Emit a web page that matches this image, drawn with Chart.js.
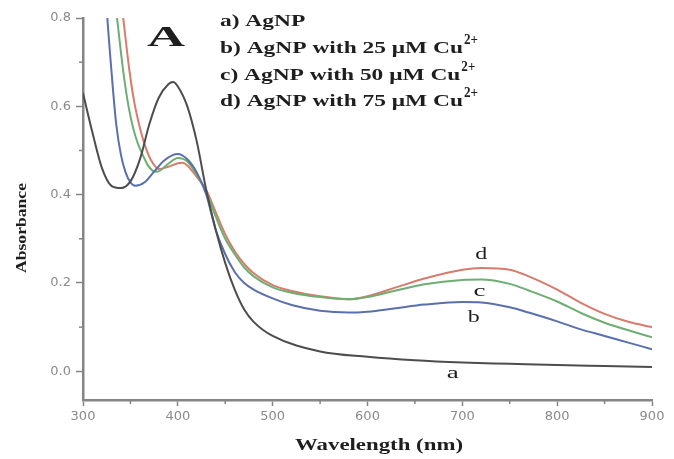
<!DOCTYPE html>
<html>
<head>
<meta charset="utf-8">
<script src="https://cdn.jsdelivr.net/npm/chart.js@4.4.1/dist/chart.umd.min.js"></script>
<style>
  html, body { margin: 0; padding: 0; background: #fff; }
  #wrap { width: 674px; height: 459px; }
</style>
</head>
<body>
<div id="wrap"><canvas id="spectra"></canvas></div>
<script>
// wavelengths (nm) and absorbance
var aWave = [300, 310, 320, 330, 340, 350, 360, 370, 380, 390, 395, 400, 410, 420, 430, 440, 450, 460, 470, 480, 500, 550, 600, 650, 700, 750, 800, 850, 900];
var aAbs  = [0.63, 0.54, 0.46, 0.42, 0.415, 0.43, 0.48, 0.56, 0.62, 0.65, 0.655, 0.645, 0.6, 0.52, 0.41, 0.32, 0.245, 0.185, 0.14, 0.112, 0.08, 0.045, 0.033, 0.025, 0.02, 0.017, 0.014, 0.012, 0.01];

var bWave = [320, 325, 330, 335, 340, 345, 350, 355, 365, 375, 385, 395, 400, 410, 420, 430, 440, 450, 460, 470, 480, 500, 520, 550, 580, 600, 630, 660, 700, 720, 750, 770, 800, 825, 850, 875, 900];
var bAbs  = [1.0, 0.82, 0.68, 0.56, 0.49, 0.45, 0.428, 0.42, 0.428, 0.452, 0.476, 0.49, 0.492, 0.48, 0.45, 0.4, 0.32, 0.265, 0.225, 0.2, 0.185, 0.165, 0.15, 0.137, 0.133, 0.135, 0.143, 0.151, 0.157, 0.156, 0.145, 0.133, 0.113, 0.095, 0.08, 0.065, 0.05];

var cWave = [328, 333, 338, 343, 348, 353, 358, 363, 368, 373, 378, 390, 400, 410, 420, 430, 440, 450, 460, 470, 480, 500, 520, 550, 580, 600, 630, 660, 700, 720, 750, 770, 800, 825, 850, 875, 900];
var cAbs  = [1.0, 0.86, 0.76, 0.67, 0.6, 0.55, 0.515, 0.49, 0.468, 0.455, 0.452, 0.47, 0.483, 0.475, 0.445, 0.405, 0.35, 0.3, 0.265, 0.235, 0.215, 0.19, 0.178, 0.168, 0.163, 0.168, 0.183, 0.197, 0.207, 0.208, 0.198, 0.183, 0.158, 0.132, 0.11, 0.093, 0.077];

var dWave = [334, 339, 344, 349, 354, 359, 364, 369, 374, 380, 390, 400, 405, 410, 420, 430, 440, 450, 460, 470, 480, 500, 520, 550, 580, 600, 630, 660, 700, 720, 750, 770, 800, 825, 850, 875, 900];
var dAbs  = [1.0, 0.87, 0.77, 0.68, 0.61, 0.56, 0.52, 0.49, 0.47, 0.458, 0.463, 0.471, 0.472, 0.466, 0.44, 0.41, 0.36, 0.31, 0.272, 0.243, 0.222, 0.195, 0.182, 0.17, 0.163, 0.17, 0.19, 0.21, 0.23, 0.234, 0.23, 0.215, 0.185, 0.155, 0.13, 0.112, 0.1];

var seriesNames = ['a', 'b', 'c', 'd'];
var legendLines = ['a) AgNP', 'b) AgNP with 25 \u03bcM Cu', 'c) AgNP with 50 \u03bcM Cu', 'd) AgNP with 75 \u03bcM Cu'];
var xTicks = [300, 400, 500, 600, 700, 800, 900];
var yTicks = [0.0, 0.2, 0.4, 0.6, 0.8];
var xMinor = [350, 450, 550, 650, 750, 850];
var yMinor = [0.1, 0.3, 0.5, 0.7];

function pairs(xs, ys) {
    return xs.map(function (x, i) { return { x: x, y: ys[i] }; });
}

var axisGray = '#858585';
var serif = '"Liberation Serif", "DejaVu Serif", serif';

// draws text stretched to a given width (the source picture is wider than tall)
function fitText(ctx, text, x, y, width) {
    var sx = width / ctx.measureText(text).width;
    ctx.save();
    ctx.translate(x, y);
    ctx.scale(sx, 1);
    ctx.textAlign = 'left';
    ctx.fillText(text, 0, 0);
    ctx.restore();
}

var extras = {
    id: 'extras',
    afterDraw: function (chart) {
        var ctx = chart.ctx;
        var xs = chart.scales.x, ys = chart.scales.y;
        var area = chart.chartArea;

        // minor ticks
        ctx.save();
        ctx.strokeStyle = axisGray;
        ctx.lineWidth = 1.5;
        xMinor.forEach(function (v) {
            var px = xs.getPixelForValue(v);
            ctx.beginPath();
            ctx.moveTo(px, area.bottom);
            ctx.lineTo(px, area.bottom + 4);
            ctx.stroke();
        });
        yMinor.forEach(function (v) {
            var py = ys.getPixelForValue(v);
            ctx.beginPath();
            ctx.moveTo(area.left, py);
            ctx.lineTo(area.left - 4, py);
            ctx.stroke();
        });
        ctx.restore();

        ctx.save();
        ctx.fillStyle = '#1e1e1e';
        ctx.textBaseline = 'alphabetic';

        // panel letter
        ctx.font = 'bold 30px ' + serif;
        fitText(ctx, 'A', 147, 46, 38);

        // legend text with superscripts
        var baseY = [26, 53, 80, 106];
        var sx = 0;
        ctx.font = 'bold 16px ' + serif;
        var ref = ctx.measureText(legendLines[1]).width;
        legendLines.forEach(function (txt, i) {
            ctx.font = 'bold 16px ' + serif;
            var w = ctx.measureText(txt).width * 243 / ref;
            fitText(ctx, txt, 220, baseY[i], w);
            if (i > 0) {
                ctx.font = 'bold 15px ' + serif;
                fitText(ctx, '2+', 220 + w + 1, baseY[i] - 9, 14);
            }
        });

        // curve labels
        ctx.font = '17px ' + serif;
        var lab = [['d', 720, 0.255], ['c', 718, 0.17], ['b', 712, 0.112], ['a', 690, -0.015]];
        lab.forEach(function (l) {
            fitText(ctx, l[0], xs.getPixelForValue(l[1]) - 6, ys.getPixelForValue(l[2]), 12);
        });

        // axis titles
        ctx.font = 'bold 17px ' + serif;
        fitText(ctx, 'Wavelength (nm)', 295, 450, 168);
        ctx.save();
        ctx.translate(26, 273);
        ctx.rotate(-Math.PI / 2);
        ctx.font = 'bold 14px ' + serif;
        fitText(ctx, 'Absorbance', 0, 0, 90);
        ctx.restore();
        ctx.restore();
    }
};

var colors = ['#4d4d4d', '#5a70ac', '#6fae72', '#d77b6c'];
var waves = [aWave, bWave, cWave, dWave];
var abs = [aAbs, bAbs, cAbs, dAbs];

var datasets = seriesNames.map(function (name, i) {
    return {
        label: name,
        data: pairs(waves[i], abs[i]),
        borderColor: colors[i],
        borderWidth: 2,
        pointRadius: 0,
        fill: false,
        cubicInterpolationMode: 'monotone'
    };
});

new Chart(document.getElementById('spectra'), {
    type: 'line',
    data: { datasets: datasets },
    options: {
        responsive: true,
        maintainAspectRatio: false,
        animation: false,
        layout: { padding: { top: 18, right: 22, left: 0, bottom: 0 } },
        plugins: { legend: { display: false }, tooltip: { enabled: false } },
        scales: {
            x: {
                type: 'linear',
                min: 300,
                max: 900,
                afterBuildTicks: function (scale) {
                    scale.ticks = xTicks.map(function (v) { return { value: v }; });
                },
                afterFit: function (scale) { scale.height = 59; },
                grid: { drawOnChartArea: false, drawTicks: true, tickLength: 6, tickWidth: 1.5, color: axisGray },
                border: { display: true, color: axisGray, width: 2.5 },
                ticks: { color: '#8a8a8a', padding: 3, maxRotation: 0, font: { family: '"DejaVu Sans", sans-serif', size: 13 } }
            },
            y: {
                type: 'linear',
                min: -0.065,
                max: 0.8,
                afterBuildTicks: function (scale) {
                    scale.ticks = yTicks.map(function (v) { return { value: v }; });
                },
                afterFit: function (scale) { scale.width = 83; },
                grid: { drawOnChartArea: false, drawTicks: true, tickLength: 7, tickWidth: 1.5, color: axisGray },
                border: { display: true, color: axisGray, width: 2.5 },
                ticks: {
                    color: '#8a8a8a', padding: 5,
                    font: { family: '"DejaVu Sans", sans-serif', size: 13 },
                    callback: function (v) { return v.toFixed(1); }
                }
            }
        }
    },
    plugins: [extras]
});
</script>
</body>
</html>
